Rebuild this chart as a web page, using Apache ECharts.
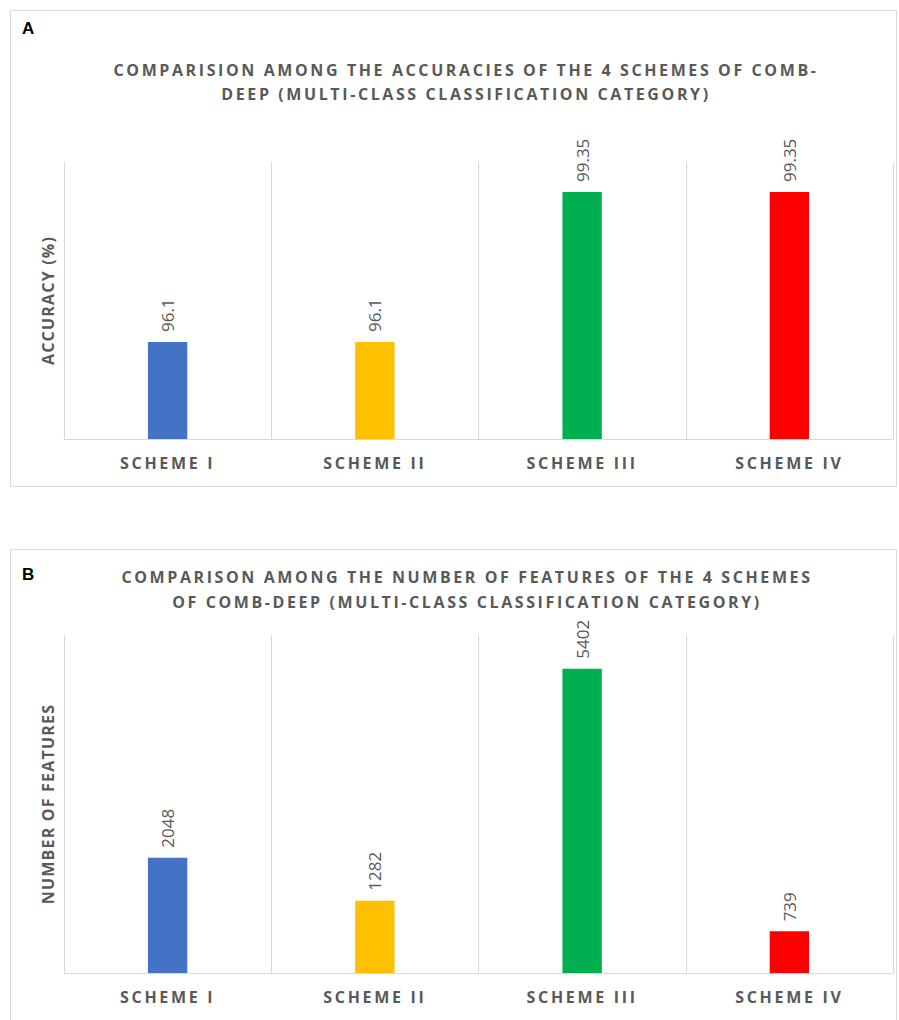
<!DOCTYPE html>
<html>
<head>
<meta charset="utf-8">
<script src="https://cdn.jsdelivr.net/npm/echarts@6/dist/echarts.min.js"></script>
<style>
  html, body { margin: 0; padding: 0; background: #ffffff; }
  #chart { width: 899px; height: 1020px; }
</style>
</head>
<body>
<div id="chart"></div>
<script>
// Comb-Deep schemes: accuracy (panel A) and feature count (panel B)
const categories = ['SCHEME I', 'SCHEME II', 'SCHEME III', 'SCHEME IV'];
const accuracy = [96.1, 96.1, 99.35, 99.35];
const featureCounts = [2048, 1282, 5402, 739];
const barColors = ['#4472C4', '#FFC000', '#00B050', '#FF0000'];

const titleA = 'COMPARISION AMONG THE ACCURACIES OF THE 4 SCHEMES OF COMB-\nDEEP (MULTI-CLASS CLASSIFICATION CATEGORY)';
const titleB = 'COMPARISON AMONG THE NUMBER OF FEATURES OF THE 4 SCHEMES\nOF COMB-DEEP (MULTI-CLASS CLASSIFICATION CATEGORY)';
const axisNames = ['ACCURACY (%)', 'NUMBER OF FEATURES'];

const TEXT = '#595959';
const LINE = '#d9d9d9';
const FONT = '"Open Sans", "DejaVu Sans", sans-serif';

function barData(values) {
  return values.map((v, i) => ({ value: v, itemStyle: { color: barColors[i] } }));
}

function xAxis(gridIndex) {
  return {
    type: 'category',
    gridIndex: gridIndex,
    data: categories,
    axisLine: { show: true, lineStyle: { color: LINE, width: 1 } },
    axisTick: { show: false },
    splitLine: { show: true, lineStyle: { color: LINE, width: 1 } },
    axisLabel: { color: TEXT, fontFamily: FONT, fontSize: 16, fontWeight: 'bold', margin: 16 }
  };
}

function yAxis(gridIndex, name, min, max) {
  return {
    type: 'value',
    gridIndex: gridIndex,
    min: min,
    max: max,
    name: name,
    nameLocation: 'middle',
    nameRotate: 90,
    nameGap: 8,
    nameTextStyle: { color: TEXT, fontFamily: FONT, fontSize: 16, fontWeight: 'bold' },
    axisLine: { show: false },
    axisTick: { show: false },
    axisLabel: { show: false },
    splitLine: { show: false }
  };
}

function barSeries(values, idx) {
  return {
    type: 'bar',
    xAxisIndex: idx,
    yAxisIndex: idx,
    barWidth: '19%',
    data: barData(values),
    label: {
      show: true,
      position: 'top',
      rotate: 90,
      align: 'left',
      verticalAlign: 'middle',
      distance: 10,
      color: TEXT,
      fontFamily: FONT,
      fontSize: 17
    }
  };
}

const chart = echarts.init(document.getElementById('chart'), null, { renderer: 'svg' });

chart.setOption({
  animation: false,
  backgroundColor: '#ffffff',
  title: [
    {
      text: titleA, left: 461, top: 53, textAlign: 'center',
      textStyle: { color: TEXT, fontFamily: FONT, fontSize: 16, fontWeight: 'bold', lineHeight: 24 }
    },
    {
      text: titleB, left: 462, top: 559, textAlign: 'center',
      textStyle: { color: TEXT, fontFamily: FONT, fontSize: 16, fontWeight: 'bold', lineHeight: 25 }
    }
  ],
  graphic: [
    { type: 'rect', shape: { x: 10.5, y: 10.5, width: 886, height: 476 }, style: { fill: 'none', stroke: LINE, lineWidth: 1 }, z: -1 },
    { type: 'rect', shape: { x: 10.5, y: 549.5, width: 886, height: 490 }, style: { fill: 'none', stroke: LINE, lineWidth: 1 }, z: -1 },
    { type: 'text', left: 22, top: 20, style: { text: 'A', fill: '#000', font: 'bold 17px "Liberation Sans", Arial, sans-serif' } },
    { type: 'text', left: 22, top: 566, style: { text: 'B', fill: '#000', font: 'bold 17px "Liberation Sans", Arial, sans-serif' } }
  ],
  grid: [
    { left: 64, right: 6, top: 162, bottom: 581 },
    { left: 64, right: 6, top: 635, bottom: 47 }
  ],
  xAxis: [xAxis(0), xAxis(1)],
  yAxis: [
    yAxis(0, axisNames[0], 94, 100),
    yAxis(1, axisNames[1], 0, 6000)
  ],
  series: [barSeries(accuracy, 0), barSeries(featureCounts, 1)]
});

// spaced capitals for the titles, category labels and axis names
const spacing = {};
categories.forEach(t => { spacing[t] = '2.7'; });
titleA.split('\n').concat(titleB.split('\n')).forEach(t => { spacing[t] = '2.6'; });
axisNames.forEach(t => { spacing[t] = '1.2'; });
function spaceLetters() {
  chart.getDom().querySelectorAll('text, tspan').forEach(function (el) {
    const t = el.textContent.trim();
    if (spacing[t]) el.setAttribute('letter-spacing', spacing[t]);
  });
}
spaceLetters();
chart.on('finished', spaceLetters);
</script>
</body>
</html>
